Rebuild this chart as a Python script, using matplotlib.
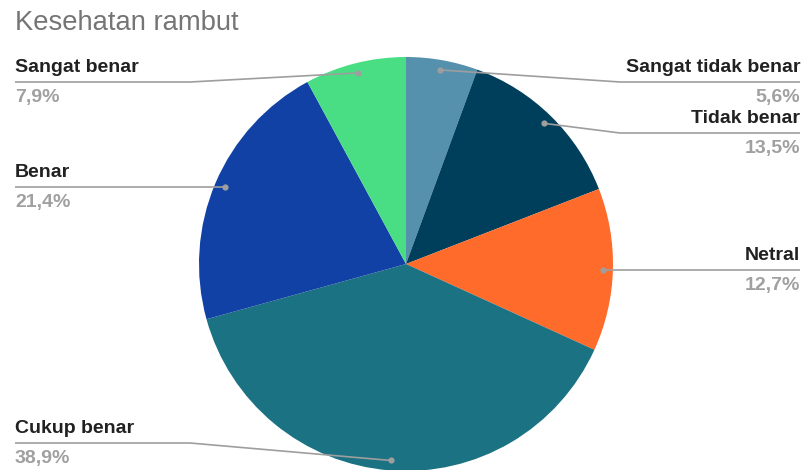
import matplotlib
matplotlib.use("Agg")
import matplotlib.pyplot as plt
import numpy as np

title = "Kesehatan rambut"
categories = ["Sangat tidak benar", "Tidak benar", "Netral", "Cukup benar", "Benar", "Sangat benar"]
values = [5.6, 13.5, 12.7, 38.9, 21.4, 7.9]
pct_labels = ["5,6%", "13,5%", "12,7%", "38,9%", "21,4%", "7,9%"]
colors = ["#5591AD", "#003F5C", "#FF6B2B", "#1B7282", "#1241A6", "#4ADE84"]

W, H = 802, 470
plt.rcParams['font.family'] = ['Liberation Sans', 'DejaVu Sans']
fig = plt.figure(figsize=(W / 100, H / 100), dpi=100)
ax = fig.add_axes([0, 0, 1, 1])
ax.set_xlim(0, W)
ax.set_ylim(0, H)
ax.set_aspect('equal')
ax.axis('off')

cx, cy_px, R = 406, 264, 207
cy = H - cy_px
ax.pie(values, colors=colors, startangle=90, counterclock=False,
       center=(cx, cy), radius=R, frame=True,
       wedgeprops=dict(linewidth=0))
ax.set_xlim(0, W)
ax.set_ylim(0, H)
ax.axis('off')

fig.text(15 / W, 1 - 23 / H, title, fontsize=19.7, color="#757575", va='center', ha='left')

# label line y positions (pixel rows) and sides
line_y_px = [82, 133, 268, 443, 186, 82]
side = ['R', 'R', 'R', 'L', 'L', 'L']
line_col = "#9E9E9E"

total = sum(values)
cum = 0
for i, v in enumerate(values):
    mid = (cum + v / 2) / total * 360
    cum += v
    ang = np.deg2rad(90 - mid)
    dr = R * 0.952
    dx, dy = cx + dr * np.cos(ang), cy + dr * np.sin(ang)
    ly = H - line_y_px[i]
    if side[i] == 'R':
        xe, xk = 800, 620
        ha = 'right'
    else:
        xe, xk = 15, 190
        ha = 'left'
    if abs(dy - ly) < 4:
        xs = [dx, xe]; ys = [dy, dy]; ly = dy
    else:
        xs = [dx, xk, xe]; ys = [dy, ly, ly]
    ax.plot(xs, ys, color=line_col, lw=1.2, solid_capstyle='butt', zorder=5)
    ax.plot([dx], [dy], 'o', color=line_col, ms=4.5, zorder=6, mec='none')
    ax.text(xe, ly + 6, categories[i], ha=ha, va='bottom', fontsize=14,
            fontweight='bold', color="#212121")
    ax.text(xe, ly - 7, pct_labels[i], ha=ha, va='top', fontsize=14,
            fontweight='bold', color="#A0A0A0")

fig.savefig("out.png", dpi=100)
